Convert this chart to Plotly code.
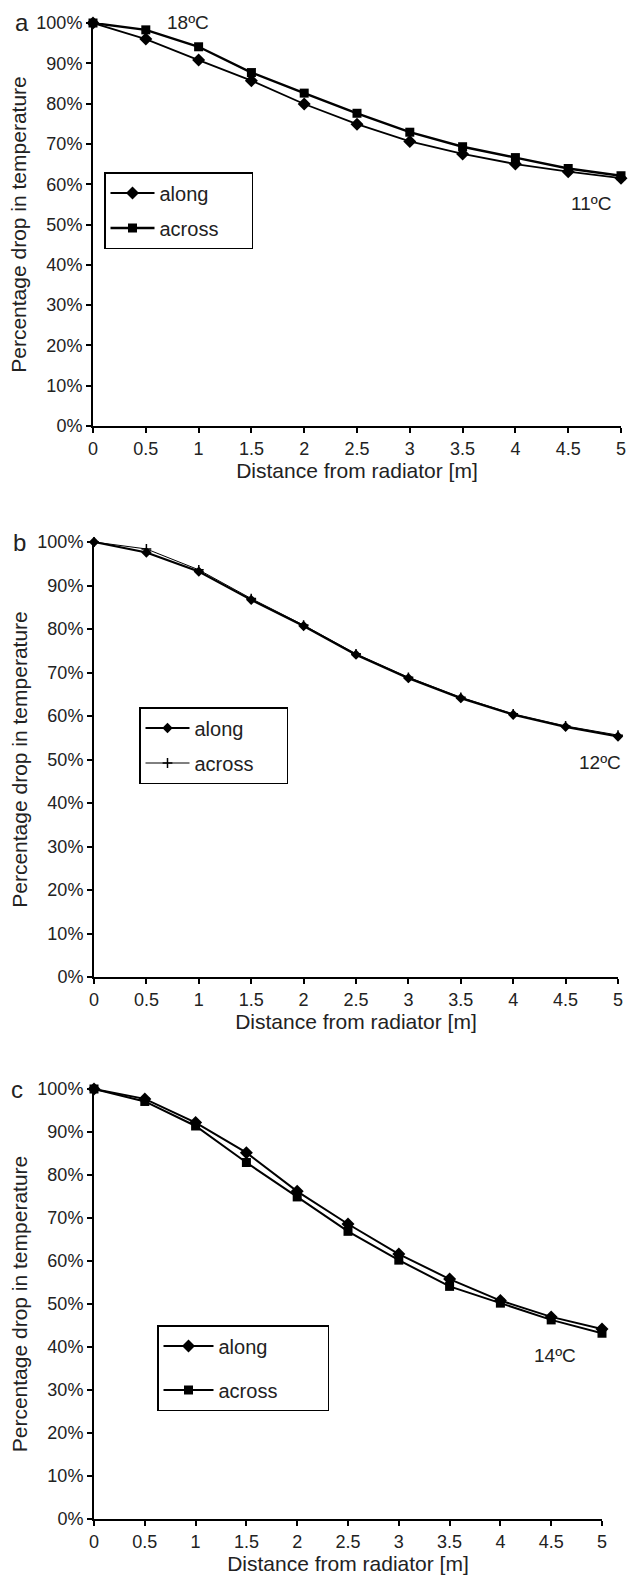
import plotly.graph_objects as go

# ---------------- data ----------------
distance_m = [0, 0.5, 1, 1.5, 2, 2.5, 3, 3.5, 4, 4.5, 5]
x_tick_vals = [0, 0.5, 1, 1.5, 2, 2.5, 3, 3.5, 4, 4.5, 5]
x_tick_text = ["0", "0.5", "1", "1.5", "2", "2.5", "3", "3.5", "4", "4.5", "5"]
y_tick_vals = [0, 10, 20, 30, 40, 50, 60, 70, 80, 90, 100]
y_tick_text = ["0%", "10%", "20%", "30%", "40%", "50%", "60%", "70%", "80%", "90%", "100%"]

a_along = [100, 96.0, 90.8, 85.7, 79.9, 74.9, 70.6, 67.5, 65.0, 63.1, 61.5]
a_across = [100, 98.3, 94.1, 87.7, 82.6, 77.6, 72.9, 69.3, 66.6, 63.9, 62.1]

b_along = [100, 97.6, 93.2, 86.7, 80.7, 74.1, 68.7, 64.1, 60.3, 57.5, 55.3]
b_across = [100, 98.4, 93.6, 87.0, 80.9, 74.3, 68.9, 64.3, 60.5, 57.7, 55.6]

c_along = [100, 97.7, 92.2, 85.2, 76.2, 68.6, 61.6, 55.8, 50.8, 47.0, 44.2]
c_across = [100, 97.1, 91.4, 82.9, 74.9, 66.9, 60.2, 54.1, 50.2, 46.3, 43.2]

panel_letters = ["a", "b", "c"]
start_labels = ["18ºC", "22ºC", "32ºC"]
end_labels = ["11ºC", "12ºC", "14ºC"]
series_names = ["along", "across"]

# ---------------- layout helpers ----------------
W, H = 633, 1582
FONT = "Liberation Sans, Arial, sans-serif"
TXT = "#222222"
NBSP = "\u00a0"


def px_x(p):
    return p / W


def px_y(p):
    return 1 - p / H


panels = [
    # x0px, x5px, y100px, y0px
    dict(x0=93, x1=621, ytop=23, ybot=426),
    dict(x0=94, x1=618, ytop=542, ybot=977),
    dict(x0=94, x1=602, ytop=1089, ybot=1519),
]

fig = go.Figure()

data_sets = [(a_along, a_across), (b_along, b_across), (c_along, c_across)]
styles = [
    (dict(symbol="diamond", size=10), dict(width=1.8), dict(symbol="square", size=9), dict(width=2.4)),
    (dict(symbol="diamond", size=8), dict(width=2.2), dict(symbol="cross-thin-open", size=7, line=dict(width=1.5, color="black")), dict(width=1.0)),
    (dict(symbol="diamond", size=10), dict(width=2.0), dict(symbol="square", size=9), dict(width=2.0)),
]
legend_ids = ["legend", "legend2", "legend3"]
legend_boxes = [
    dict(x=104, y=172, pad=5, gap=6, iw=44),
    dict(x=139, y=707, pad=5, gap=6, iw=44),
    dict(x=157, y=1325, pad=8, gap=15, iw=50),
]

for i, (along, across) in enumerate(data_sets):
    xa = "x" if i == 0 else f"x{i+1}"
    ya = "y" if i == 0 else f"y{i+1}"
    m_al, l_al, m_ac, l_ac = styles[i]
    m_al = dict(m_al, color="black")
    m_ac = dict(m_ac, color="black")
    pad = NBSP * legend_boxes[i]["pad"]
    fig.add_trace(go.Scatter(
        x=distance_m, y=along, name=series_names[0] + pad, mode="lines+markers",
        line=dict(color="black", **l_al), marker=m_al, xaxis=xa, yaxis=ya,
        legend=legend_ids[i], legendgroup=f"g{i}a", cliponaxis=False))
    fig.add_trace(go.Scatter(
        x=distance_m, y=across, name=series_names[1] + pad, mode="lines+markers",
        line=dict(color="black", **l_ac), marker=m_ac, xaxis=xa, yaxis=ya,
        legend=legend_ids[i], legendgroup=f"g{i}b", cliponaxis=False))

axis_common = dict(
    showline=True, linecolor="black", linewidth=2, showgrid=False, zeroline=False,
    ticks="outside", ticklen=5, tickwidth=2, tickcolor="black", automargin=False,
    tickfont=dict(family=FONT, size=18, color=TXT), ticklabeloverflow="allow",
)

layout = dict(
    width=W, height=H, margin=dict(l=0, r=0, t=0, b=0, autoexpand=False),
    paper_bgcolor="white", plot_bgcolor="white", showlegend=True,
    font=dict(family=FONT, color=TXT),
)

for i, p in enumerate(panels):
    sx = "" if i == 0 else str(i + 1)
    layout[f"xaxis{sx}"] = dict(
        axis_common, domain=[px_x(p["x0"]), px_x(p["x1"])], range=[0, 5],
        tickvals=x_tick_vals, ticktext=x_tick_text, anchor=f"y{sx}",
        title=dict(text="Distance from radiator [m]", font=dict(family=FONT, size=21, color=TXT), standoff=4),
    )
    layout[f"yaxis{sx}"] = dict(
        axis_common, domain=[px_y(p["ybot"]), px_y(p["ytop"])], range=[0, 100],
        tickvals=y_tick_vals, ticktext=y_tick_text, anchor=f"x{sx}",
        title=dict(text="Percentage drop in temperature", font=dict(family=FONT, size=21, color=TXT), standoff=4),
    )
    lb = legend_boxes[i]
    layout[legend_ids[i]] = dict(
        x=px_x(lb["x"]), y=px_y(lb["y"]), xanchor="left", yanchor="top",
        bgcolor="white", bordercolor="black", borderwidth=1.5,
        font=dict(family=FONT, size=20, color=TXT), tracegroupgap=lb["gap"],
        itemwidth=lb["iw"],
    )

fig.update_layout(**layout)

# annotations: panel letters and temperature labels
start_pos = [(0.9, 100), (0.46, 101.6), (0.88, 102)]
end_pos = [(4.72, 55.3), (4.83, 49.2), (4.54, 38.1)]
letter_x = [22, 19, 17]
for i, p in enumerate(panels):
    sx = "" if i == 0 else str(i + 1)
    fig.add_annotation(text=panel_letters[i], xref="paper", yref=f"y{sx}", x=px_x(letter_x[i]), y=100,
                       showarrow=False, font=dict(family=FONT, size=24, color=TXT), xanchor="center", yanchor="middle")
    fig.add_annotation(text=start_labels[i], xref=f"x{sx}", yref=f"y{sx}", x=start_pos[i][0], y=start_pos[i][1],
                       showarrow=False, font=dict(family=FONT, size=19, color=TXT), xanchor="center", yanchor="middle")
    fig.add_annotation(text=end_labels[i], xref=f"x{sx}", yref=f"y{sx}", x=end_pos[i][0], y=end_pos[i][1],
                       showarrow=False, font=dict(family=FONT, size=19, color=TXT), xanchor="center", yanchor="middle")

fig.write_html("out.html", config={"displayModeBar": False},
               post_script="document.body.style.margin='0';document.body.style.overflow='hidden';")
